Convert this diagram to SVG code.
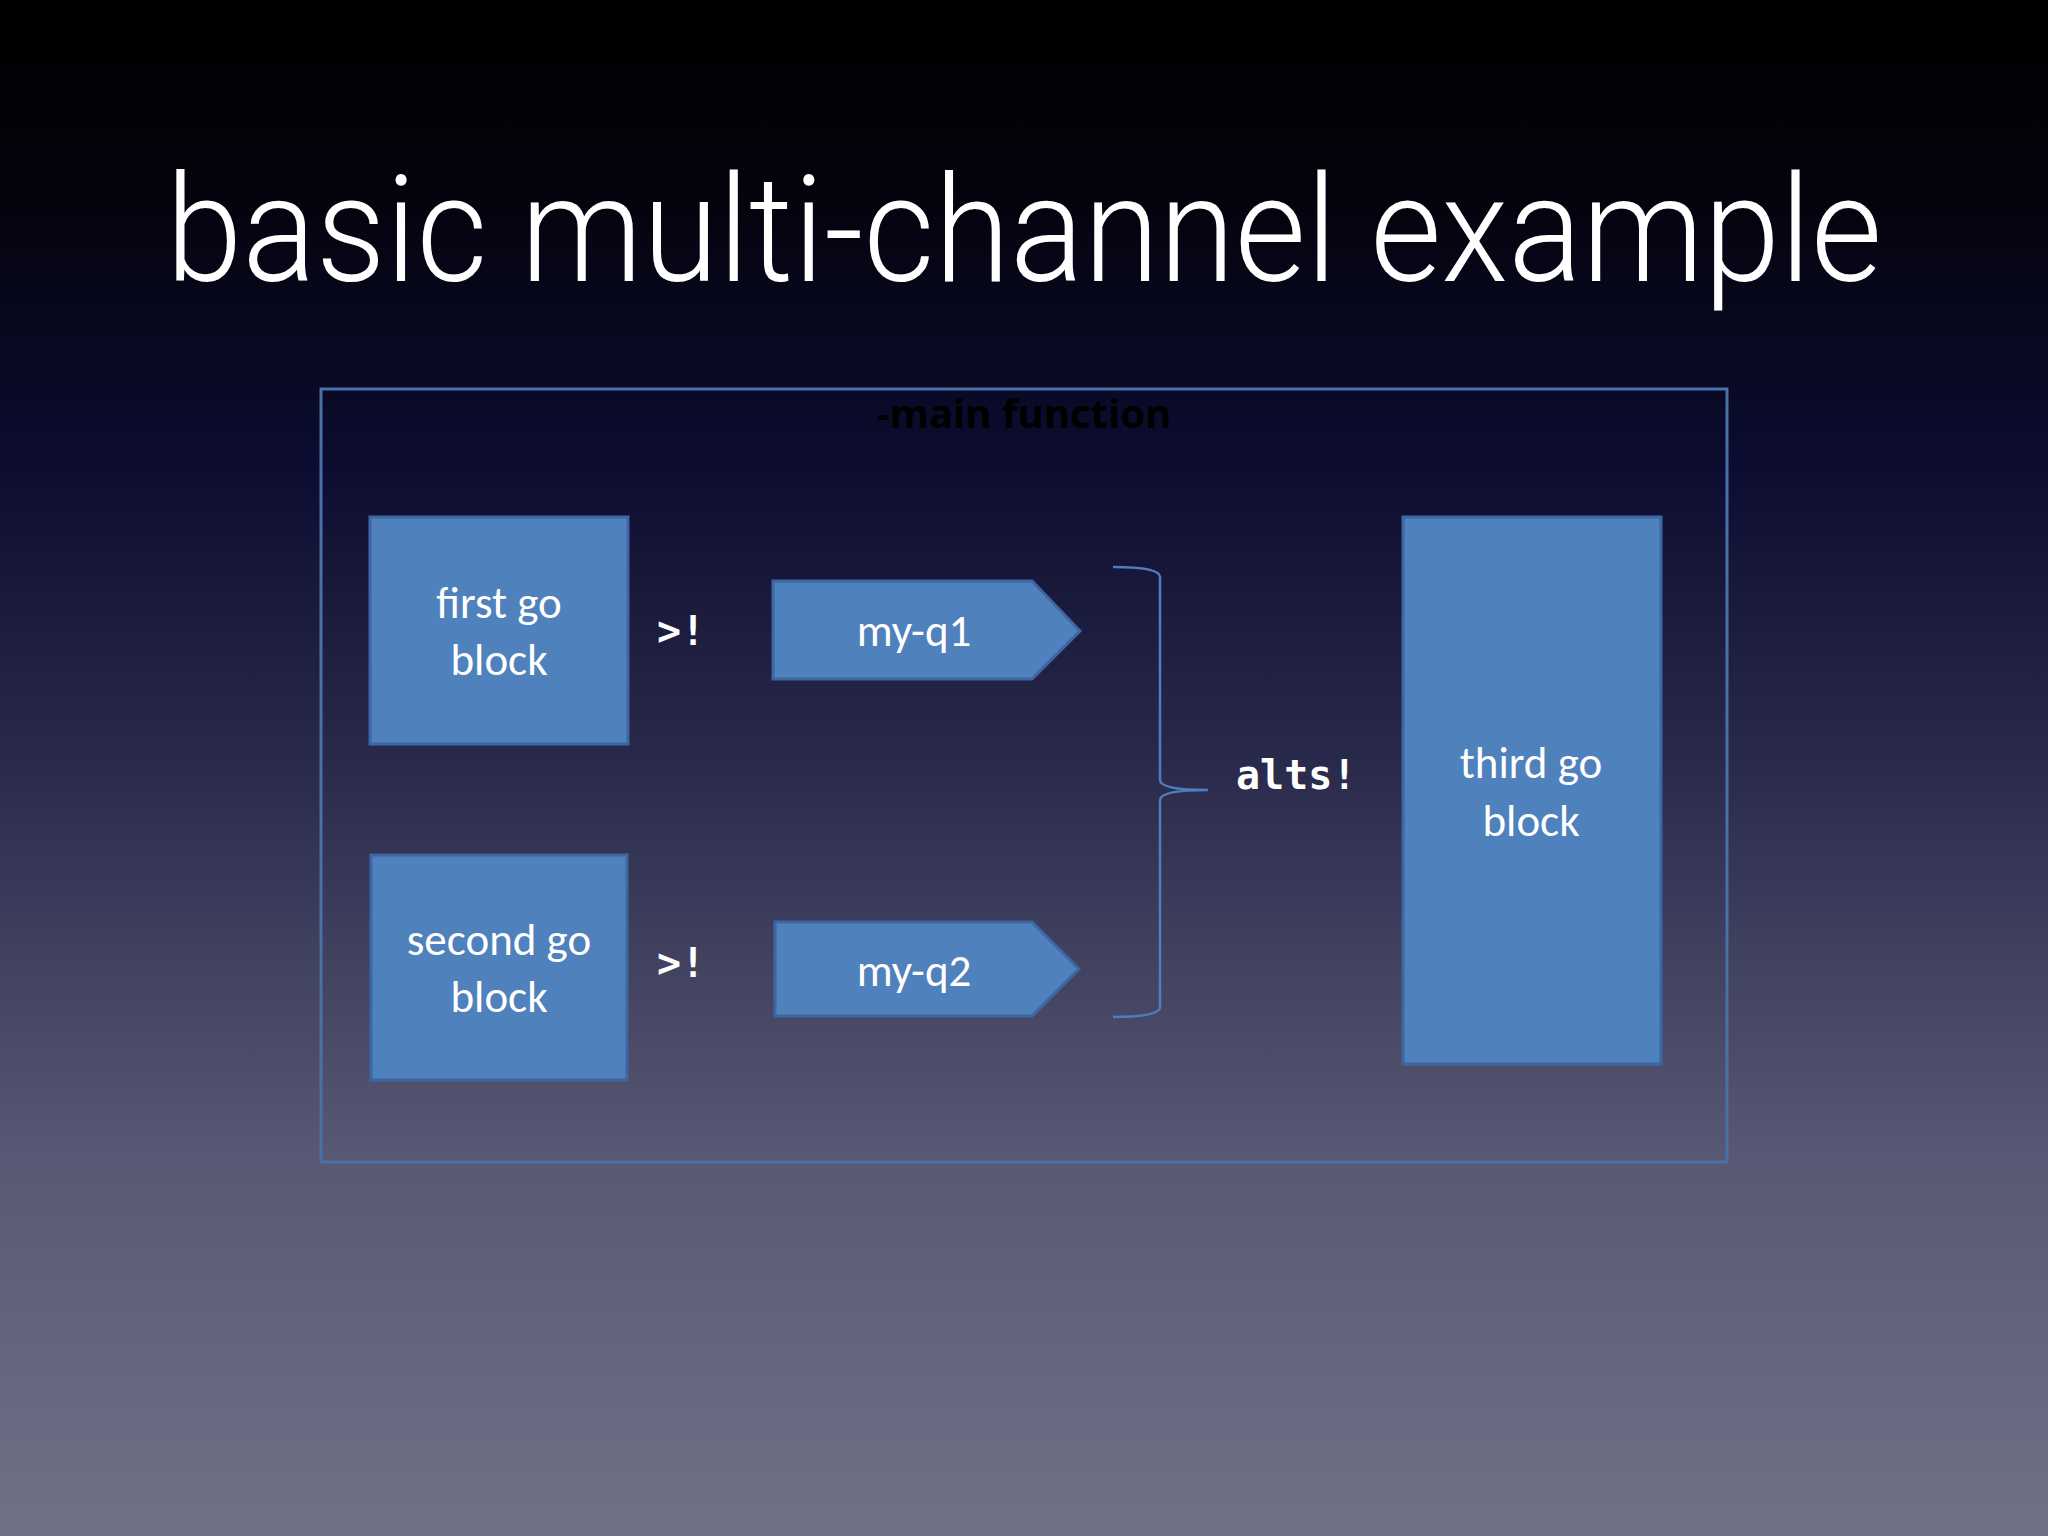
<svg xmlns="http://www.w3.org/2000/svg" width="2048" height="1536" viewBox="0 0 2048 1536">
<defs>
<linearGradient id="bg" x1="0" y1="0" x2="0" y2="1">
<stop offset="0" stop-color="#000000"/>
<stop offset="0.12" stop-color="#03030c"/>
<stop offset="0.3" stop-color="#0c0c30"/>
<stop offset="0.5" stop-color="#2a2a4c"/>
<stop offset="0.75" stop-color="#585874"/>
<stop offset="1" stop-color="#707086"/>
</linearGradient>
<style>
.box{fill:#4f81bd;stroke:#3d67a3;stroke-width:3}
.lbl{font-family:Carlito,"Open Sans","Liberation Sans",sans-serif;font-size:45px;fill:#ffffff;text-anchor:middle}
.code{font-family:"DejaVu Sans Mono","Liberation Mono",monospace;font-weight:bold;font-size:40px;fill:#ffffff}
.ln{fill:none;stroke:#4f7dbd;stroke-width:2.5}
</style>
</defs>
<rect width="2048" height="1536" fill="url(#bg)"/>
<text x="1024" y="281" font-family="Roboto,'Liberation Sans',Arial,sans-serif" font-weight="300" font-size="148" fill="#ffffff" text-anchor="middle" textLength="1716" lengthAdjust="spacingAndGlyphs">basic multi-channel example</text>
<g id="main">
<rect x="321" y="389" width="1406" height="773" fill="none" stroke="#4a70a8" stroke-width="3"/>
<text x="1024" y="428" font-family="'Open Sans',sans-serif" font-weight="bold" font-size="40" fill="#000000" text-anchor="middle">-main function</text>
</g>
<g id="first"><rect class="box" x="370" y="517" width="258" height="227"/><text class="lbl" x="499" y="618">first go</text><text class="lbl" x="499" y="675">block</text></g>
<g id="second"><rect class="box" x="371" y="855" width="256" height="225"/><text class="lbl" x="499" y="955">second go</text><text class="lbl" x="499" y="1012">block</text></g>
<g id="third"><rect class="box" x="1403" y="517" width="258" height="547"/><text class="lbl" x="1531" y="778">third go</text><text class="lbl" x="1531" y="836">block</text></g>
<g id="q1"><polygon class="box" points="773,581 1032,581 1080,631 1032,679 773,679"/><text class="lbl" x="914" y="646">my-q1</text></g>
<g id="q2"><polygon class="box" points="775,922 1032,922 1079,969 1032,1016 775,1016"/><text class="lbl" x="914" y="986">my-q2</text></g>
<g id="connectors">
<path class="ln" d="M1113,567 Q1160,567 1160,577 L1160,780 Q1160,790 1208,790 Q1160,790 1160,800 L1160,1007 Q1160,1017 1113,1017"/>
<text class="code" x="657" y="645">&gt;!</text>
<text class="code" x="657" y="977">&gt;!</text>
<text class="code" x="1236" y="789">alts!</text>
</g>
</svg>
